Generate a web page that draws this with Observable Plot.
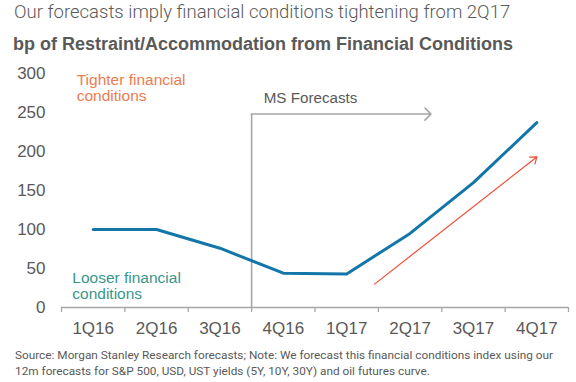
<!DOCTYPE html>
<html>
<head>
<meta charset="utf-8">
<script src="https://cdn.jsdelivr.net/npm/d3@7"></script>
<script src="https://cdn.jsdelivr.net/npm/@observablehq/plot@0.6"></script>
<style>
  html, body { margin: 0; padding: 0; background: #fff; }
  body { width: 576px; height: 382px; position: relative; overflow: hidden; }
  #title { position: absolute; left: 14px; top: 1px; font-family: Roboto, sans-serif; font-weight: 300; font-size: 18.5px; color: #595959; white-space: nowrap; }
  #subtitle { position: absolute; left: 13px; top: 34px; font-family: "Liberation Sans", Arial, sans-serif; font-weight: bold; font-size: 18px; color: #595959; white-space: nowrap; }
  #chart { position: absolute; left: 0; top: 60px; }
  #caption { position: absolute; left: 15px; top: 347px; font-family: Roboto, sans-serif; font-size: 11.8px; line-height: 16px; color: #595959; white-space: nowrap; }
</style>
</head>
<body>
<div id="title">Our forecasts imply financial conditions tightening from 2Q17</div>
<div id="subtitle">bp of Restraint/Accommodation from Financial Conditions</div>
<div id="chart"></div>
<div id="caption">Source: Morgan Stanley Research forecasts; Note: We forecast this financial conditions index using our<br>12m forecasts for S&amp;P 500, USD, UST yields (5Y, 10Y, 30Y) and oil futures curve.</div>
<script>
const quarters = ["1Q16", "2Q16", "3Q16", "4Q16", "1Q17", "2Q17", "3Q17", "4Q17"];
const values = [100, 100, 76, 44, 43, 95, 160, 237];
const yTicks = [0, 50, 100, 150, 200, 250, 300];

// annotation anchors in data space (quarter index, bp)
const forecastStartX = 2.5;
const forecastArrowEndX = 5.33;
const forecastArrowLevel = 248;
const trendArrow = [{x1: 4.44, y1: 30, x2: 7.0, y2: 193}];
const tighterLabel = [{x: -0.26, y: 301, text: "Tighter financial\nconditions"}];
const looserLabel = [{x: -0.33, y: 47, text: "Looser financial\nconditions"}];
const forecastLabel = [{x: 2.69, y: 269, text: "MS Forecasts"}];

const idx = quarters.map((d, i) => i);
const bounds = d3.range(quarters.length + 1).map(i => i - 0.5);
const grey = "#595959";

const chart = Plot.plot({
  width: 576,
  height: 280,
  marginLeft: 61,
  marginRight: 8,
  marginTop: 13,
  marginBottom: 33,
  style: {fontFamily: "'Liberation Sans', Arial, sans-serif", background: "transparent"},
  x: {type: "linear", domain: [-0.5, quarters.length - 0.5]},
  y: {domain: [0, 300]},
  marks: [
    Plot.axisY({ticks: yTicks, tickSize: 0, tickPadding: 16, fontSize: 17, color: grey, label: null}),
    Plot.axisX({ticks: bounds, tickSize: 5, tickFormat: () => "", stroke: "#a6a6a6", strokeWidth: 1.3, label: null}),
    Plot.axisX({ticks: idx, tickSize: 0, tickPadding: 14, tickFormat: i => quarters[i], fontSize: 17, color: grey, label: null}),
    Plot.ruleY([0], {stroke: "#a6a6a6", strokeWidth: 1.3}),
    Plot.ruleX([forecastStartX], {y1: 0, y2: forecastArrowLevel, stroke: "#a6a6a6", strokeWidth: 1.6}),
    Plot.arrow([{x1: forecastStartX, x2: forecastArrowEndX, y: forecastArrowLevel}], {
      x1: "x1", x2: "x2", y1: "y", y2: "y", stroke: "#a6a6a6", strokeWidth: 1.6, headLength: 8, headAngle: 90
    }),
    Plot.text(forecastLabel, {x: "x", y: "y", text: "text", textAnchor: "start", fontSize: 15.2, fill: grey}),
    Plot.line(values, {x: (d, i) => i, y: d => d, stroke: "#1276a8", strokeWidth: 3}),
    Plot.arrow(trendArrow, {x1: "x1", y1: "y1", x2: "x2", y2: "y2", stroke: "#f04e36", strokeWidth: 1.2, headLength: 9, headAngle: 75}),
    Plot.text(tighterLabel, {x: "x", y: "y", text: "text", textAnchor: "start", lineAnchor: "top", fontSize: 15.5, lineHeight: 1.08, fill: "#ee7b4f"}),
    Plot.text(looserLabel, {x: "x", y: "y", text: "text", textAnchor: "start", lineAnchor: "top", fontSize: 15.5, lineHeight: 1.08, fill: "#3a968a"})
  ]
});
document.getElementById("chart").appendChild(chart);
</script>
</body>
</html>
